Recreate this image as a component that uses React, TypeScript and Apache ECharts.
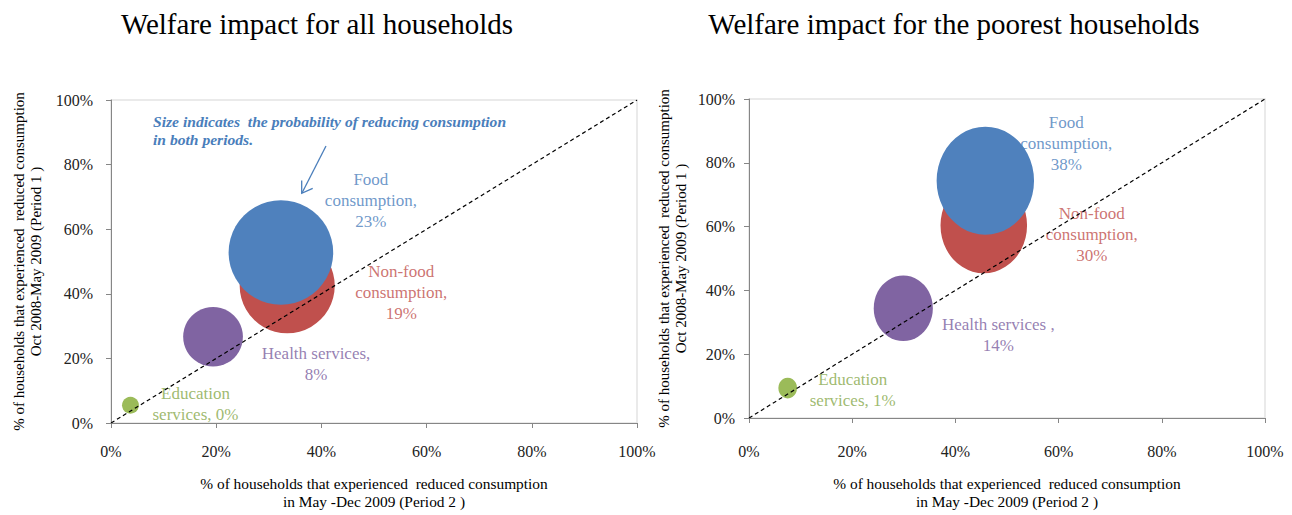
import React, { useEffect, useRef } from "react";
import * as echarts from "echarts";

// ---- data ----
const categories = ["Education services", "Health services", "Non-food consumption", "Food consumption"];
const colors = ["#9BBB59", "#8064A2", "#C0504D", "#4F81BD"];
const labelColors = ["#86A84A", "#7A5E9E", "#C0504D", "#4A7EBB"];

// Left chart: all households
const allPeriod2 = [3.7, 19.4, 33.5, 32.3]; // x, % in May-Dec 2009
const allPeriod1 = [5.5, 26.7, 42.5, 52.8]; // y, % in Oct 2008-May 2009
const allBoth = [0.6, 7.5, 19, 23]; // bubble size, % reducing in both periods
const allLabels = ["Education\nservices, 0%", "Health services,\n8%", "Non-food\nconsumption,\n19%", "Food\nconsumption,\n23%"];

// Right chart: poorest households
const poorPeriod2 = [7.5, 29.9, 45.5, 45.8];
const poorPeriod1 = [9.4, 34.4, 60.4, 74.4];
const poorBoth = [1.4, 14, 30, 38];
const poorLabels = ["Education\nservices, 1%", "Health services ,\n14%", "Non-food\nconsumption,\n30%", "Food\nconsumption,\n38%"];

const diagonal = [[0, 0], [100, 100]];
const tickValues = { min: 0, max: 100, interval: 20 };

const titles = ["Welfare impact for all households", "Welfare impact for the poorest households"];
const yName = "% of households that experienced  reduced consumption\nOct 2008-May 2009 (Period 1 )";
const xName = "% of households that experienced  reduced consumption\nin May -Dec 2009 (Period 2 )";
const note = "Size indicates  the probability of reducing consumption\nin both periods.";

const SERIF = '"Liberation Serif", "Times New Roman", serif';

// label offsets (px) relative to each bubble centre
const allOffsets = [[65, -1], [103, 27], [114, 7], [90, -52]];
const poorOffsets = [[65, 2], [95, 27], [108, 9], [81, -37]];

export default function App() {
  const ref = useRef<HTMLDivElement>(null);
  useEffect(() => {
    if (!ref.current) return;
    const chart = echarts.init(ref.current, null, { renderer: "svg" });

    const mkAxes = (i: number, nameGapX: number, nameGapY: number, marginX: number, marginY: number) => {
      const xa = {
        type: "value",
        gridIndex: i,
        ...tickValues,
        name: xName,
        nameLocation: "middle",
        nameGap: nameGapX,
        nameTextStyle: { fontFamily: SERIF, fontSize: 15.4, color: "#000", lineHeight: 18 },
        axisLine: { show: true, lineStyle: { color: "#868686", width: 1 } },
        axisTick: { show: true, length: 5, lineStyle: { color: "#868686" } },
        axisLabel: { formatter: "{value}%", fontFamily: SERIF, fontSize: 16, color: "#222", margin: marginX },
        splitLine: { show: false },
      };
      const ya = {
        type: "value",
        gridIndex: i,
        ...tickValues,
        name: yName,
        nameLocation: "middle",
        nameRotate: 90,
        nameGap: nameGapY,
        nameTextStyle: { fontFamily: SERIF, fontSize: 15, color: "#000", lineHeight: 17 },
        axisLine: { show: true, lineStyle: { color: "#868686", width: 1 } },
        axisTick: { show: true, length: 5, lineStyle: { color: "#868686" } },
        axisLabel: { formatter: "{value}%", fontFamily: SERIF, fontSize: 16, color: "#222", margin: marginY },
        splitLine: { show: false },
      };
      return [xa, ya];
    };

    const [x0, y0] = mkAxes(0, 51, 67, 20, 18);
    const [x1, y1] = mkAxes(1, 56, 60, 25, 14);

    const mkSeries = (
      i: number,
      xs: number[],
      ys: number[],
      sizes: number[],
      labels: string[],
      offsets: number[][],
      rx: number,
      ry: number
    ) => {
      const maxS = Math.max(...sizes);
      const pts = xs.map((x, k) => [x, ys[k], sizes[k]]);
      return [
        {
          type: "scatter",
          xAxisIndex: i,
          yAxisIndex: i,
          z: 1,
          silent: true,
          symbolSize: 1,
          itemStyle: { color: "rgba(0,0,0,0)" },
          data: pts.map((p, k) => ({
            value: p,
            name: categories[k],
            label: {
              show: true,
              position: "inside",
              formatter: labels[k],
              offset: offsets[k],
              color: labelColors[k],
              fontFamily: SERIF,
              fontSize: 17,
              lineHeight: 21,
              align: "center",
              verticalAlign: "middle",
            },
          })),
        },
        {
          type: "scatter",
          xAxisIndex: i,
          yAxisIndex: i,
          z: 2,
          silent: true,
          symbol: "circle",
          symbolSize: (v: number[]) => {
            const f = Math.sqrt(v[2] / maxS);
            return [2 * rx * f, 2 * ry * f];
          },
          data: pts.map((p, k) => ({ value: p, name: categories[k], itemStyle: { color: colors[k], opacity: 1 } })),
        },
        {
          type: "line",
          xAxisIndex: i,
          yAxisIndex: i,
          z: 3,
          silent: true,
          symbol: "none",
          data: diagonal,
          lineStyle: { color: "#000", width: 1.2, type: [4, 3] },
        },
      ];
    };

    chart.setOption({
      animation: false,
      backgroundColor: "#fff",
      grid: [
        { left: 111, top: 100, width: 526, height: 327, show: true, borderColor: "#E3E3E3", borderWidth: 1.5, backgroundColor: "transparent" },
        { left: 749, top: 99, width: 516, height: 323, show: true, borderColor: "#E3E3E3", borderWidth: 1.5, backgroundColor: "transparent" },
      ],
      xAxis: [x0, x1],
      yAxis: [y0, y1],
      series: [
        ...mkSeries(0, allPeriod2, allPeriod1, allBoth, allLabels, allOffsets, 52.3, 52.3),
        ...mkSeries(1, poorPeriod2, poorPeriod1, poorBoth, poorLabels, poorOffsets, 48.7, 54),
      ],
      graphic: [
        {
          type: "text",
          x: 317,
          y: 24,
          style: { text: titles[0], font: `29px ${SERIF}`, fill: "#000", align: "center", verticalAlign: "middle" },
        },
        {
          type: "text",
          x: 954,
          y: 24,
          style: { text: titles[1], font: `29px ${SERIF}`, fill: "#000", align: "center", verticalAlign: "middle" },
        },
        {
          type: "text",
          x: 153,
          y: 112,
          z: 10,
          style: { text: note, font: `italic bold 15.6px ${SERIF}`, fill: "#4A7EBB", lineHeight: 18 },
        },
        {
          type: "line",
          z: 10,
          shape: { x1: 326, y1: 146, x2: 302, y2: 193 },
          style: { stroke: "#4A7EBB", lineWidth: 1.3 },
        },
        {
          type: "polyline",
          z: 10,
          shape: { points: [[301.7, 180.5], [301.7, 193.3], [312.7, 188.3]] },
          style: { stroke: "#4A7EBB", lineWidth: 1.3, fill: null },
        },
      ],
    });
    return () => chart.dispose();
  }, []);
  return <div ref={ref} style={{ position: "fixed", left: 0, top: 0, width: 1292, height: 515 }} />;
}
